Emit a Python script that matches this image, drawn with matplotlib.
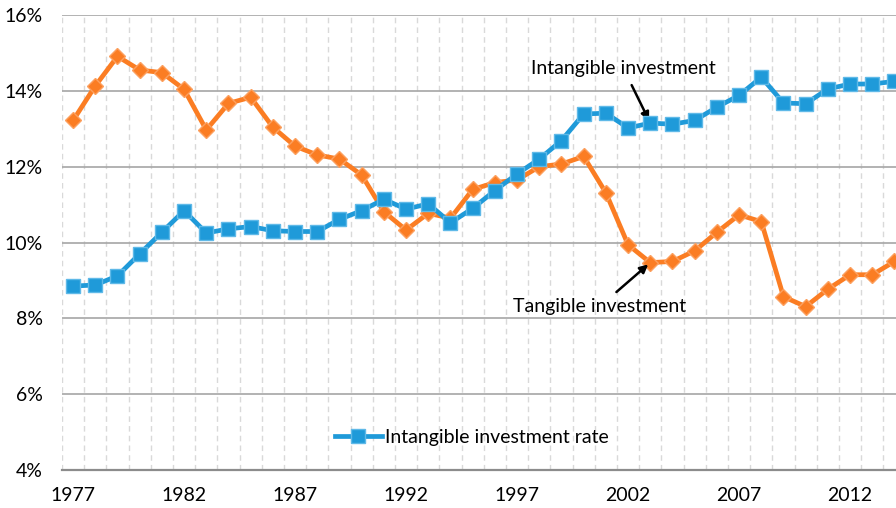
import numpy as np
import matplotlib
matplotlib.use('Agg')
import matplotlib.pyplot as plt
from matplotlib.ticker import FuncFormatter, MultipleLocator

plt.rcParams['font.family'] = ['Lato', 'DejaVu Sans']

# years and the two investment rates (% of value added)
years = np.arange(1977, 2015)
intangible = [8.85, 8.88, 9.12, 9.70, 10.27, 10.84, 10.25, 10.36, 10.42, 10.31,
              10.29, 10.29, 10.61, 10.84, 11.14, 10.88, 11.02, 10.52, 10.90, 11.37,
              11.81, 12.20, 12.69, 13.39, 13.41, 13.02, 13.15, 13.12, 13.22, 13.57,
              13.88, 14.36, 13.68, 13.66, 14.05, 14.18, 14.18, 14.25]
tangible = [13.22, 14.13, 14.91, 14.55, 14.48, 14.04, 12.97, 13.67, 13.83, 13.04,
            12.54, 12.31, 12.20, 11.78, 10.81, 10.33, 10.77, 10.64, 11.40, 11.58,
            11.65, 12.00, 12.07, 12.27, 11.31, 9.94, 9.47, 9.50, 9.78, 10.27,
            10.73, 10.55, 8.57, 8.31, 8.77, 9.15, 9.15, 9.50]
xtick_years = [1977, 1982, 1987, 1992, 1997, 2002, 2007, 2012]

blue = '#1f9ad9'
orange = '#fb7d23'
fs = 14

fig = plt.figure(figsize=(8.96, 5.08), dpi=100)
ax = fig.add_axes([62 / 896, 38 / 508, 843.6 / 896, 455 / 508])

ax.plot(years, tangible, color=orange, lw=3.4, marker='D', ms=8,
        mfc=orange, mec='#fca05f', mew=1, zorder=3)
ax.plot(years, intangible, color=blue, lw=3.4, marker='s', ms=9.5,
        mfc=blue, mec='#5fb9e8', mew=1, zorder=4, label='Intangible investment rate')

ax.set_xlim(1976.5, 2014.5)
ax.set_ylim(4, 16)
ax.yaxis.set_major_locator(MultipleLocator(2))
ax.yaxis.set_major_formatter(FuncFormatter(lambda v, p: f'{v:.0f}%'))
ax.set_xticks(xtick_years)
ax.set_xticks(np.arange(1976.5, 2015, 1), minor=True)

ax.grid(axis='y', which='major', color='#a6a6a6', lw=1.2)
ax.grid(axis='x', which='minor', color='#d9d9d9', lw=1, ls=(0, (4, 3)))
ax.set_axisbelow(True)
for s in ['top', 'right', 'left']:
    ax.spines[s].set_visible(False)
ax.spines['bottom'].set_color('#8c8c8c')
ax.spines['bottom'].set_linewidth(1.6)

ax.tick_params(axis='both', which='both', length=0, labelsize=fs, colors='black')
ax.tick_params(axis='y', pad=14)
ax.tick_params(axis='x', pad=12)

ax.annotate('Intangible investment', xy=(2003, 13.15), xytext=(2001.8, 14.58),
            fontsize=fs, ha='center', va='center',
            arrowprops=dict(arrowstyle='-|>', color='black', lw=1.8,
                            shrinkA=4, shrinkB=2, mutation_scale=12))
ax.annotate('Tangible investment', xy=(2003, 9.47), xytext=(2000.7, 8.30),
            fontsize=fs, ha='center', va='center',
            arrowprops=dict(arrowstyle='-|>', color='black', lw=1.8,
                            shrinkA=4, shrinkB=2, mutation_scale=12))

fig.legend(loc='center', bbox_to_anchor=(472 / 896, 1 - 437 / 508), frameon=False,
           fontsize=fs, handlelength=2.4, handletextpad=0.2)

fig.savefig('out.png', dpi=100)
